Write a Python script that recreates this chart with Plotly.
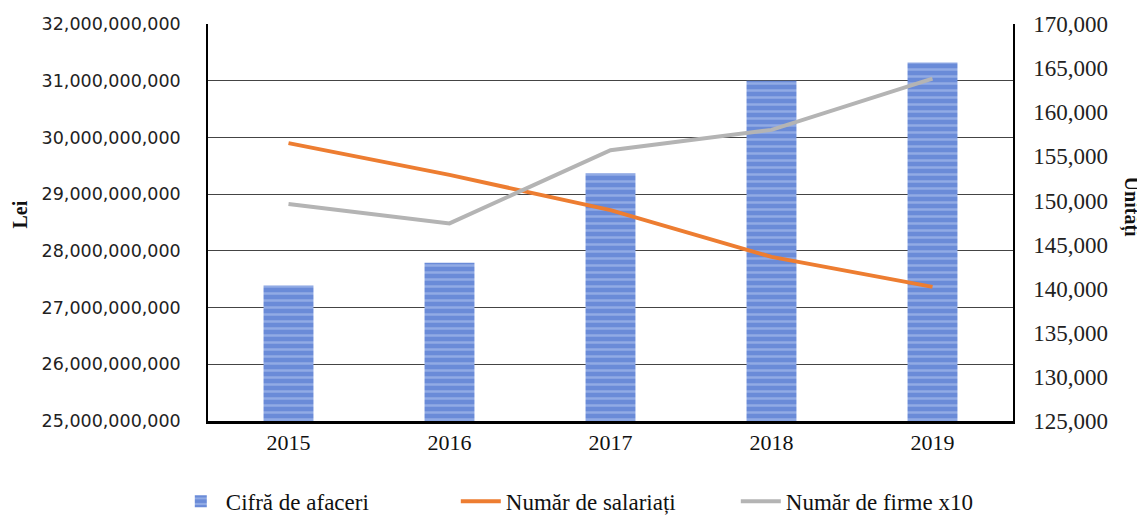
import plotly.graph_objects as go

years = ["2015", "2016", "2017", "2018", "2019"]
cifra_afaceri = [27.39e9, 27.79e9, 29.37e9, 31.0e9, 31.32e9]
numar_salariati = [156500, 152900, 148900, 143600, 140200]
numar_firme_x10 = [149600, 147400, 155700, 158000, 163800]

left_ticks = [25e9 + i * 1e9 for i in range(8)]
right_ticks = [125000 + i * 5000 for i in range(10)]

serif = "Liberation Serif"

fig = go.Figure()

fig.add_trace(
    go.Bar(
        x=years,
        y=cifra_afaceri,
        name="Cifră de afaceri",
        marker=dict(
            color="#6a8bd8",
            line=dict(width=0),
            pattern=dict(shape="-", fgcolor="#b8cbf2", bgcolor="#6a8bd8", size=7, solidity=0.35),
        ),
        yaxis="y",
    )
)
fig.add_trace(
    go.Scatter(
        x=years,
        y=numar_salariati,
        name="Număr de salariați",
        mode="lines",
        line=dict(color="#ed7d31", width=4),
        yaxis="y2",
    )
)
fig.add_trace(
    go.Scatter(
        x=years,
        y=numar_firme_x10,
        name="Număr de firme x10",
        mode="lines",
        line=dict(color="#b4b4b4", width=4),
        yaxis="y2",
    )
)

# page body has an 8px margin, so the figure is shrunk by that amount
fig.update_layout(
    width=1137,
    height=510,
    paper_bgcolor="white",
    plot_bgcolor="white",
    margin=dict(l=200, r=132, t=16, b=97, autoexpand=False),
    bargap=0.69,
    font=dict(family=serif, size=20, color="#111"),
    xaxis=dict(
        showgrid=False,
        showline=True,
        linecolor="black",
        linewidth=3,
        ticks="",
        tickfont=dict(family=serif, size=22),
    ),
    yaxis=dict(
        range=[25e9, 32e9],
        tickvals=left_ticks,
        tickformat=",.0f",
        tickfont=dict(family="DejaVu Sans", size=17.5, color="#222"),
        showgrid=True,
        gridcolor="#444",
        gridwidth=1,
        showline=True,
        linecolor="black",
        linewidth=1.5,
        ticks="",
        ticklabelstandoff=22,
        zeroline=False,
    ),
    yaxis2=dict(
        range=[125000, 170000],
        tickvals=right_ticks,
        tickformat=",.0f",
        tickfont=dict(family=serif, size=23, color="#222"),
        overlaying="y",
        side="right",
        showgrid=False,
        showline=True,
        linecolor="black",
        linewidth=1.5,
        ticks="",
        ticklabelstandoff=14,
        zeroline=False,
    ),
    legend=dict(
        orientation="h",
        xref="paper",
        yref="paper",
        x=-0.04,
        xanchor="left",
        y=-0.148,
        yanchor="top",
        font=dict(family=serif, size=23, color="#111"),
        entrywidth=225,
        itemwidth=40,
    ),
    annotations=[
        dict(
            text="<b>Lei</b>",
            xref="paper",
            yref="paper",
            x=0,
            xshift=-188,
            xanchor="center",
            y=0.52,
            showarrow=False,
            textangle=-90,
            font=dict(family=serif, size=20),
        ),
        dict(
            text="<b>Unitățí</b>",
            xref="paper",
            yref="paper",
            x=1,
            xshift=118,
            xanchor="center",
            y=0.54,
            showarrow=False,
            textangle=90,
            font=dict(family=serif, size=20),
        ),
    ],
    showlegend=True,
)

fig.write_html("out.html")
